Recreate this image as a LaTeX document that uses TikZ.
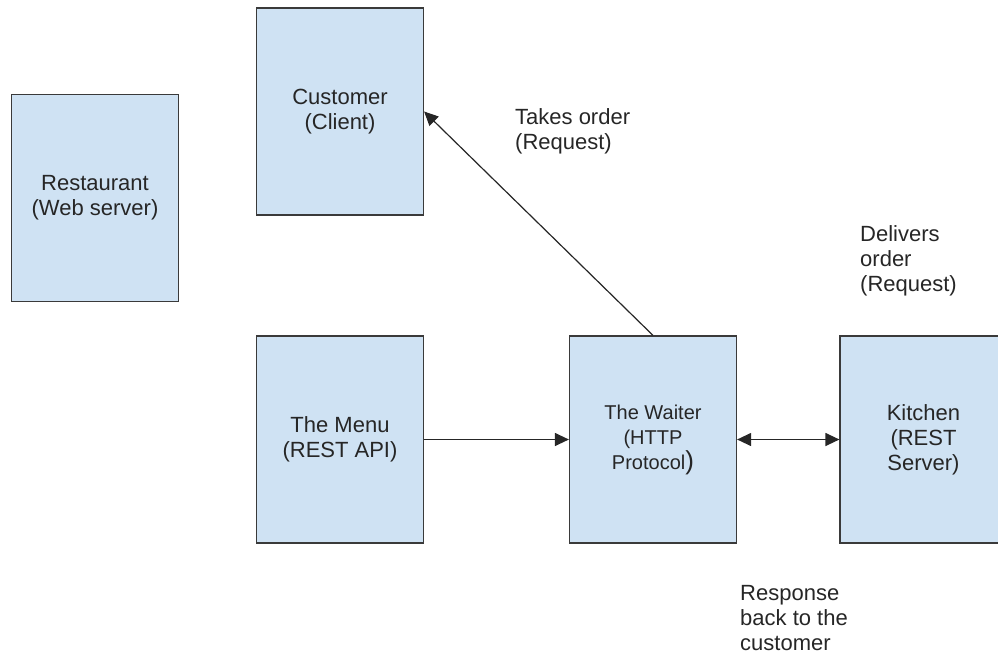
\documentclass[tikz,border=0pt]{standalone}
\usepackage{fontspec}
\setmainfont{Liberation Sans}
\usetikzlibrary{arrows.meta}
\definecolor{boxblue}{HTML}{CFE2F3}
\definecolor{boxline}{HTML}{3A3A3A}
\definecolor{inktext}{HTML}{262626}

\begin{document}
\begin{tikzpicture}[x=1pt,y=-1pt,
  box/.style={draw=boxline, fill=boxblue, line width=1.2pt, minimum width=167pt,
    minimum height=207pt, inner sep=0pt, align=center, text=inktext,
    font=\fontsize{22}{25}\selectfont},
  note/.style={anchor=north west, inner sep=0pt, align=left, text=inktext,
    font=\fontsize{22}{25}\selectfont},
  link/.style={draw=black!85, line width=1.2pt, -{Triangle[length=14pt,width=13pt]}}]
\useasboundingbox (0,0) rectangle (998,653);
\clip (0,0) rectangle (998,653);

% the boxes
\node[box] (restaurant) at (95,198) {Restaurant\\(Web server)};
\node[box] (customer) at (340,111.5) {Customer\\(Client)};
\node[box] (menu) at (340,439.5) {The Menu\\(REST API)};
\node[box, font=\fontsize{20}{25}\selectfont] (waiter) at (653,439.5)
  {The Waiter\\(HTTP\\Protocol{\fontsize{26}{25}\selectfont)}};
\node[box] (kitchen) at (923.5,439.5) {Kitchen\\(REST\\Server)};

% connections
\draw[link] (waiter.north) -- (customer.east);
\draw[link] (menu.east) -- (waiter.west);
\draw[link, {Triangle[length=14pt,width=13pt]}-{Triangle[length=14pt,width=13pt]}] (waiter.east) -- (kitchen.west);

% free labels
\node[note] (takes) at (515,108) {Takes order\\(Request)};
\node[note] (delivers) at (860,225) {Delivers\\order\\(Request)};
\node[note] (response) at (740,585) {Response\\back to the\\customer};
\end{tikzpicture}
\end{document}
